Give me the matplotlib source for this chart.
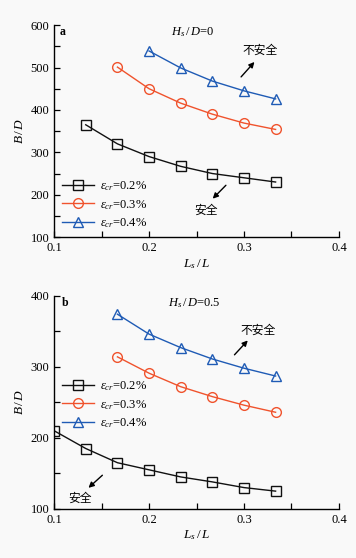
import matplotlib
matplotlib.use("Agg")
import matplotlib.pyplot as plt
from matplotlib.ticker import MultipleLocator

plt.rcParams['font.family'] = ['Liberation Serif', 'Noto Sans CJK SC', 'DejaVu Sans']
plt.rcParams['mathtext.fontset'] = 'custom'
plt.rcParams['mathtext.it'] = 'Liberation Serif:italic'
plt.rcParams['mathtext.rm'] = 'Liberation Serif'

# Panel a (H_s/D = 0)
xa_02 = [0.1333, 0.1667, 0.2, 0.2333, 0.2667, 0.3, 0.3333]
ya_02 = [365, 320, 290, 267, 250, 240, 230]
xa_03 = [0.1667, 0.2, 0.2333, 0.2667, 0.3, 0.3333]
ya_03 = [501, 450, 416, 390, 369, 354]
xa_04 = [0.2, 0.2333, 0.2667, 0.3, 0.3333]
ya_04 = [539, 499, 468, 445, 426]

# Panel b (H_s/D = 0.5)
xb_02 = [0.1, 0.1333, 0.1667, 0.2, 0.2333, 0.2667, 0.3, 0.3333]
yb_02 = [210, 185, 165, 155, 145, 138, 130, 125]
xb_03 = [0.1667, 0.2, 0.2333, 0.2667, 0.3, 0.3333]
yb_03 = [314, 291, 272, 258, 246, 236]
xb_04 = [0.1667, 0.2, 0.2333, 0.2667, 0.3, 0.3333]
yb_04 = [374, 346, 327, 311, 298, 287]

labels = [r'$\varepsilon_{cr}$=0.2%', r'$\varepsilon_{cr}$=0.3%', r'$\varepsilon_{cr}$=0.4%']
colors = ['#111111', '#f0532d', '#1f5bb5']
markers = ['s', 'o', '^']
msizes = [6.5, 7, 7.5]

fig = plt.figure(figsize=(3.56, 5.58), dpi=100)
fig.patch.set_facecolor('#f9f9f9')

cjk = ['Noto Sans CJK SC', 'DejaVu Sans']
FS = 9

def setup(ax, ylim, ystep):
    ax.set_facecolor('#f9f9f9')
    ax.set_xlim(0.1, 0.4)
    ax.set_ylim(*ylim)
    ax.xaxis.set_major_locator(MultipleLocator(0.1))
    ax.xaxis.set_minor_locator(MultipleLocator(0.05))
    ax.yaxis.set_major_locator(MultipleLocator(ystep))
    ax.yaxis.set_minor_locator(MultipleLocator(ystep / 2))
    for s in ['top', 'right']:
        ax.spines[s].set_visible(False)
    for s in ['left', 'bottom']:
        ax.spines[s].set_linewidth(1.0)
    ax.tick_params(which='both', direction='in', labelsize=FS, width=0.9)
    ax.tick_params(which='major', length=4)
    ax.tick_params(which='minor', length=4)
    ax.set_ylabel(r'$B\,/\,D$', fontsize=9.5, labelpad=3)

def plot_series(ax, data):
    for (x, y), lab, c, m, ms in zip(data, labels, colors, markers, msizes):
        ax.plot(x, y, color=c, lw=1.0, marker=m, ms=ms, mfc='none', mec=c, mew=1.0, label=lab)

arrow = dict(arrowstyle='-|>', color='black', lw=1.0, mutation_scale=8)

# Panel a
ax1 = fig.add_axes([0.152, 0.575, 0.80, 0.38])
plot_series(ax1, [(xa_02, ya_02), (xa_03, ya_03), (xa_04, ya_04)])
setup(ax1, (100, 600), 100)
ax1.set_xticks([0.1, 0.2, 0.3, 0.4])
ax1.set_xticklabels(['0.1', '0.2', '0.3', '0.4'])
ax1.set_xlabel(r'$L_s\,/\,L$', fontsize=9.5, labelpad=2)
ax1.text(0.106, 584, 'a', fontsize=8.5, fontweight='bold', va='center', ha='left')
ax1.text(0.246, 584, r'$H_s\,/\,D$=0', fontsize=FS, va='center', ha='center')
ax1.text(0.317, 540, '不安全', fontsize=8.5, va='center', ha='center', family=cjk)
ax1.annotate('', xy=(0.313, 518), xytext=(0.295, 473), arrowprops=arrow)
ax1.text(0.26, 164, '安全', fontsize=8.5, va='center', ha='center', family=cjk)
ax1.annotate('', xy=(0.265, 186), xytext=(0.283, 227), arrowprops=arrow)
ax1.legend(loc='upper left', bbox_to_anchor=(0.0, 0.31), frameon=False, fontsize=FS,
           handlelength=2.6, handletextpad=0.5, labelspacing=0.4, borderaxespad=0.2)

# Panel b
ax2 = fig.add_axes([0.152, 0.088, 0.80, 0.382])
plot_series(ax2, [(xb_02, yb_02), (xb_03, yb_03), (xb_04, yb_04)])
setup(ax2, (100, 400), 100)
ax2.set_xticks([0.1, 0.2, 0.3, 0.4])
ax2.set_xticklabels(['0.1', '0.2', '0.3', '0.4'])
ax2.set_xlabel(r'$L_s\,/\,L$', fontsize=9.5, labelpad=2)
ax2.text(0.108, 390, 'b', fontsize=8.5, fontweight='bold', va='center', ha='left')
ax2.text(0.248, 389, r'$H_s\,/\,D$=0.5', fontsize=FS, va='center', ha='center')
ax2.text(0.315, 352, '不安全', fontsize=8.5, va='center', ha='center', family=cjk)
ax2.annotate('', xy=(0.306, 340), xytext=(0.288, 314), arrowprops=arrow)
ax2.text(0.127, 115, '安全', fontsize=8.5, va='center', ha='center', family=cjk)
ax2.annotate('', xy=(0.134, 127), xytext=(0.153, 150), arrowprops=arrow)
ax2.legend(loc='upper left', bbox_to_anchor=(0.0, 0.645), frameon=False, fontsize=FS,
           handlelength=2.6, handletextpad=0.5, labelspacing=0.4, borderaxespad=0.2)

fig.savefig('out.png', dpi=100, facecolor=fig.get_facecolor())
